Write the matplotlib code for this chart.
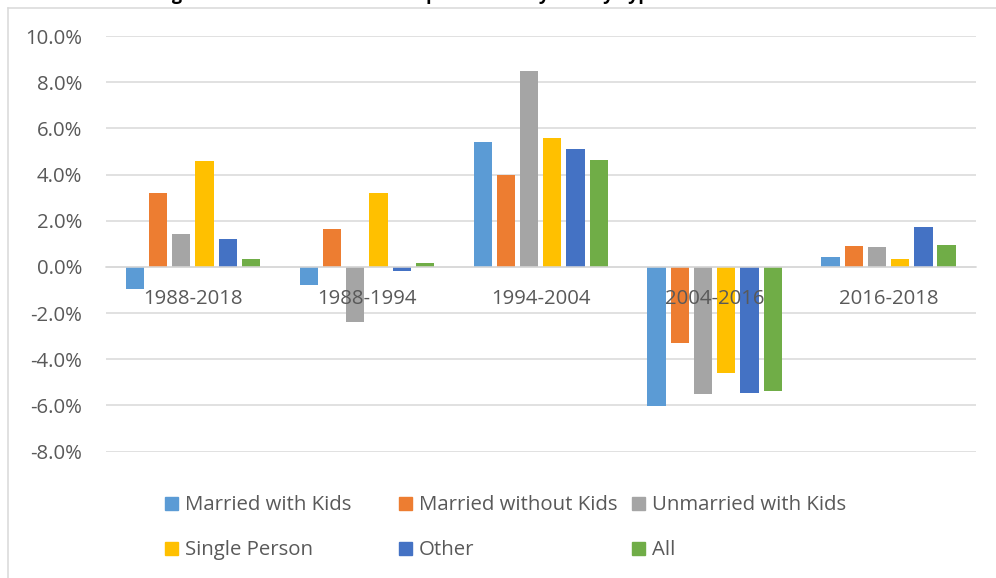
import numpy as np
import matplotlib.pyplot as plt
from matplotlib.lines import Line2D
from matplotlib.patches import Rectangle
from matplotlib.ticker import FuncFormatter, MultipleLocator

plt.rcParams['font.family'] = ['Open Sans', 'DejaVu Sans']

# ---- data: average annual change (%) by period and family type ----
periods = ['1988-2018', '1988-1994', '1994-2004', '2004-2016', '2016-2018']
married_kids = [-0.95, -0.77, 5.41, -6.01, 0.41]
married_no_kids = [3.22, 1.64, 3.99, -3.30, 0.89]
unmarried_kids = [1.43, -2.37, 8.50, -5.53, 0.84]
single_person = [4.58, 3.22, 5.58, -4.59, 0.36]
other = [1.20, -0.19, 5.12, -5.46, 1.71]
all_types = [0.36, 0.17, 4.64, -5.39, 0.93]

series_names = ['Married with Kids', 'Married without Kids', 'Unmarried with Kids',
                'Single Person', 'Other', 'All']
series_values = [married_kids, married_no_kids, unmarried_kids,
                 single_person, other, all_types]
series_colors = ['#5B9BD5', '#ED7D31', '#A5A5A5', '#FFC000', '#4472C4', '#70AD47']

title = 'Average Annual Growth Rate of Expenditures by Family Type'

W, H = 996, 578
text_gray = '#595959'
line_gray = '#D9D9D9'
fs = 14.7

fig = plt.figure(figsize=(W / 100, H / 100), dpi=100)
ax = fig.add_axes([106 / W, 1 - 451.5 / H, (975.5 - 106) / W, (451.5 - 36) / H])

# ---- clustered bars ----
x = np.arange(len(periods))
slot = 0.1335
bar_w = 0.105
for i, (vals, color) in enumerate(zip(series_values, series_colors)):
    ax.bar(x + (i - 2.5) * slot, vals, bar_w, color=color, zorder=2)

ax.set_xlim(-0.5, len(periods) - 0.5)
ax.set_ylim(-8, 10)
ax.yaxis.set_major_locator(MultipleLocator(2))
ax.yaxis.set_major_formatter(FuncFormatter(lambda v, p: f'{v:.1f}%'))
ax.grid(axis='y', color=line_gray, linewidth=1.1)
ax.set_axisbelow(True)

for side in ['top', 'right', 'left']:
    ax.spines[side].set_visible(False)
ax.spines['bottom'].set_position(('data', 0))
ax.spines['bottom'].set_color(line_gray)
ax.spines['bottom'].set_linewidth(1.1)

ax.set_xticks(x, periods)
ax.tick_params(axis='x', length=0, pad=16, labelsize=fs, labelcolor=text_gray)
ax.tick_params(axis='y', length=0, pad=17, labelsize=fs, labelcolor=text_gray)
ax.xaxis.set_zorder(3)

# ---- chart frame ----
fig.add_artist(Line2D([7.5 / W, 7.5 / W], [0, 1 - 7.5 / H],
                      transform=fig.transFigure, color=line_gray, lw=1.1))
fig.add_artist(Line2D([7.5 / W, 1], [1 - 7.5 / H, 1 - 7.5 / H],
                      transform=fig.transFigure, color=line_gray, lw=1.1))

# ---- title (sits at the very top edge) ----
fig.text(120 / W, 1.0, title, ha='left', va='baseline', fontsize=13,
         fontweight='bold', color='black')

# ---- legend, three entries per row ----
for i, (name, color) in enumerate(zip(series_names, series_colors)):
    row, col = divmod(i, 3)
    mx = 165 + col * 233.5
    base = 510 + row * 45
    fig.add_artist(Rectangle((mx / W, 1 - base / H), 13 / W, 13 / H,
                             transform=fig.transFigure, color=color))
    fig.text((mx + 20) / W, 1 - base / H, name, ha='left', va='baseline',
             fontsize=fs, color=text_gray)

fig.savefig('out.png', dpi=100)
